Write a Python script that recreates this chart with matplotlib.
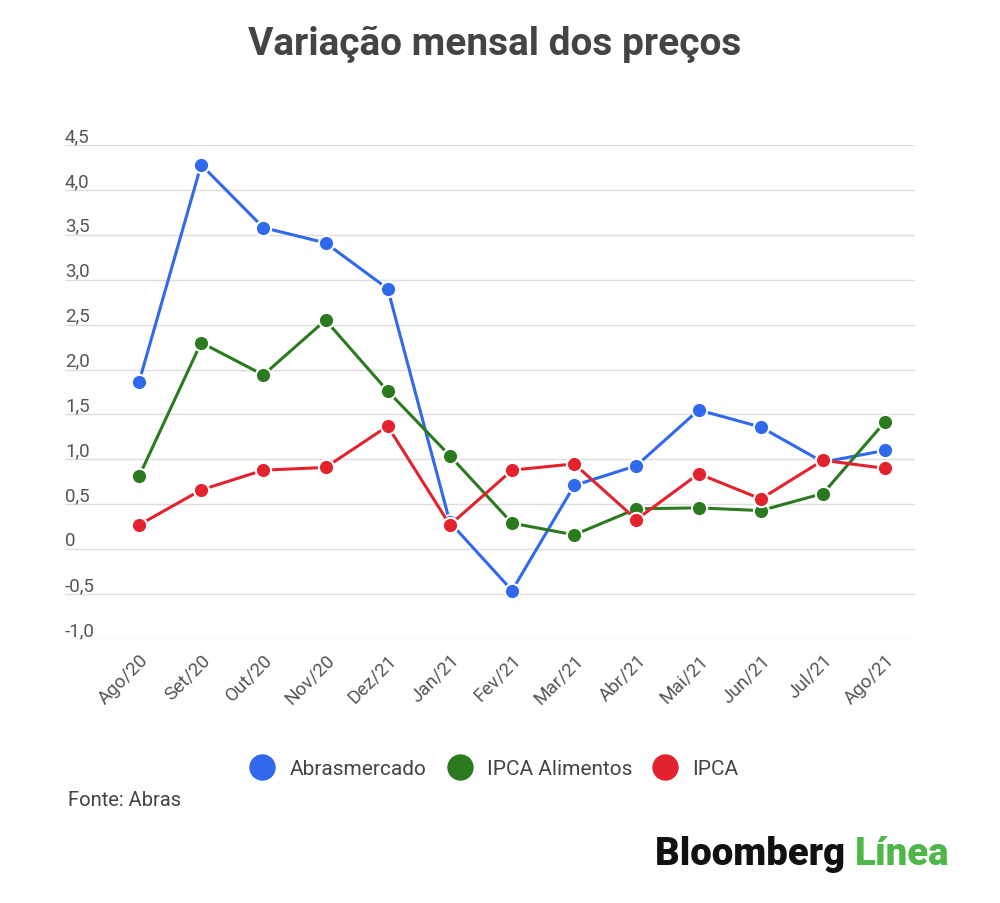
import matplotlib
matplotlib.use("Agg")
import matplotlib.pyplot as plt
from matplotlib.lines import Line2D

plt.rcParams['font.family'] = ['Roboto', 'DejaVu Sans']

# dados
meses = ["Ago/20", "Set/20", "Out/20", "Nov/20", "Dez/21", "Jan/21", "Fev/21",
         "Mar/21", "Abr/21", "Mai/21", "Jun/21", "Jul/21", "Ago/21"]
abrasmercado = [1.86, 4.28, 3.58, 3.41, 2.90, 0.30, -0.46, 0.71, 0.93, 1.55, 1.36, 0.97, 1.10]
ipca_alimentos = [0.81, 2.30, 1.94, 2.55, 1.76, 1.04, 0.29, 0.16, 0.45, 0.46, 0.43, 0.62, 1.42]
ipca = [0.27, 0.66, 0.88, 0.91, 1.37, 0.27, 0.88, 0.95, 0.33, 0.84, 0.56, 0.99, 0.90]

yticks = [-1.0, -0.5, 0, 0.5, 1.0, 1.5, 2.0, 2.5, 3.0, 3.5, 4.0, 4.5]
ylabels = ["-1,0", "-0,5", "0", "0,5", "1,0", "1,5", "2,0", "2,5", "3,0", "3,5", "4,0", "4,5"]

series = [("Abrasmercado", abrasmercado, "#3068ee"),
          ("IPCA Alimentos", ipca_alimentos, "#2b7a1f"),
          ("IPCA", ipca, "#e2222c")]

fig = plt.figure(figsize=(10, 9.04), dpi=100)
ax = fig.add_axes([0.065, 0.292, 0.85, 0.5465])

x = list(range(len(meses)))
for i, (nome, vals, cor) in enumerate(series):
    ax.plot(x, vals, color=cor, lw=2.2, marker="o", ms=11, mfc=cor,
            mec="white", mew=1.5, zorder=3 + i)

ax.set_xlim(-1.19, 12.48)
ax.set_ylim(-1.0, 4.5)
ax.set_yticks(yticks)
ax.set_yticklabels([])
ax.tick_params(axis="y", length=0)
ax.grid(axis="y", color="#dddddd", lw=1)
ax.set_axisbelow(True)
for s in ax.spines.values():
    s.set_visible(False)

for v, lab in zip(yticks, ylabels):
    ax.text(0, v, lab, transform=ax.get_yaxis_transform(), ha="left", va="bottom",
            fontsize=13.5, color="#555555")

ax.set_xticks(x)
ax.set_xticklabels(meses, rotation=45, ha="right", rotation_mode="anchor",
                   fontsize=13.5, color="#555555")
ax.tick_params(axis="x", length=0, pad=8)

fig.text(0.495, 0.951, "Variação mensal dos preços", ha="center", va="center",
         fontsize=28, fontweight="bold", color="#444444")

handles = [Line2D([], [], ls="none", marker="o", ms=18, mfc=c, mec=c, label=n)
           for n, _, c in series]
fig.legend(handles=handles, loc="center", bbox_to_anchor=(0.49, 0.149), ncol=3,
           frameon=False, fontsize=15, handletextpad=0.3, columnspacing=0.6,
           labelcolor="#444444")

fig.text(0.068, 0.114, "Fonte: Abras", ha="left", va="center", fontsize=14.5, color="#444444")

t = fig.text(0.655, 0.055, "Bloomberg ", ha="left", va="center", fontsize=27.5,
             fontweight="black", color="#111111")
fig.canvas.draw()
bb = t.get_window_extent()
fig.text(bb.x1 / fig.bbox.width, 0.055, "Línea", ha="left", va="center", fontsize=27.5,
         fontweight="black", color="#4db848")

fig.savefig("out.png", dpi=100, facecolor="white")
